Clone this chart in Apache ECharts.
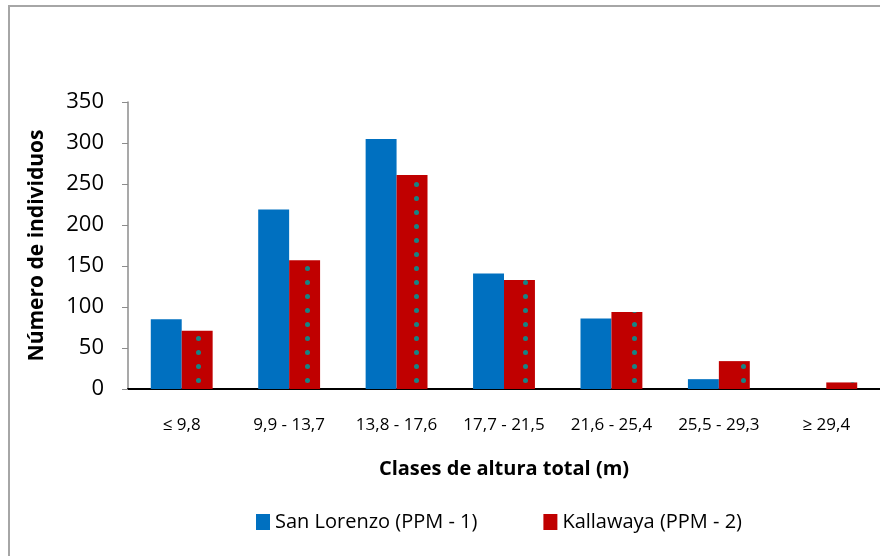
<!DOCTYPE html>
<html>
<head>
<meta charset="utf-8">
<script src="https://cdn.jsdelivr.net/npm/echarts@6/dist/echarts.min.js"></script>
<style>
html,body{margin:0;padding:0;background:#fff;}
#frame{position:absolute;left:8px;top:5px;width:880px;height:560px;border-left:2px solid #a6a6a6;border-top:2px solid #a6a6a6;box-sizing:border-box;}
#chart{position:absolute;left:0;top:0;width:880px;height:556px;}
</style>
</head>
<body>
<div id="frame"></div>
<div id="chart"></div>
<script>
const categories = ['≤ 9,8', '9,9 - 13,7', '13,8 - 17,6', '17,7 - 21,5', '21,6 - 25,4', '25,5 - 29,3', '≥ 29,4'];
const sanLorenzo = [85, 219, 305, 141, 86, 12, 0];
const kallawaya = [71, 157, 261, 133, 94, 34, 8];
const yTicks = [0, 50, 100, 150, 200, 250, 300, 350];
const seriesNames = ['San Lorenzo (PPM - 1)', 'Kallawaya (PPM - 2)'];

const FONT = 'Open Sans';
const chart = echarts.init(document.getElementById('chart'), null, {renderer: 'canvas'});
chart.setOption({
  animation: false,
  backgroundColor: 'transparent',
  grid: {left: 128, width: 758, top: 102, bottom: 167, containLabel: false},
  legend: {
    bottom: 19,
    left: 251,
    itemWidth: 14,
    itemHeight: 16,
    itemGap: 66,
    icon: 'rect',
    textStyle: {fontFamily: FONT, fontSize: 20, color: '#000'},
    data: seriesNames
  },
  xAxis: {
    type: 'category',
    data: categories,
    axisLine: {lineStyle: {color: '#000', width: 2}},
    axisTick: {show: false},
    axisLabel: {fontFamily: FONT, fontSize: 17, color: '#000', margin: 28, interval: 0},
    name: 'Clases de altura total (m)',
    nameLocation: 'middle',
    nameGap: 70,
    nameTextStyle: {fontFamily: FONT, fontSize: 20, fontWeight: 'bold', color: '#000'}
  },
  yAxis: {
    type: 'value',
    min: yTicks[0],
    max: yTicks[yTicks.length - 1],
    interval: 50,
    axisLine: {show: true, lineStyle: {color: '#8c8c8c', width: 1.5}},
    axisTick: {show: true, length: 6, lineStyle: {color: '#8c8c8c'}},
    splitLine: {show: false},
    axisLabel: {fontFamily: FONT, fontSize: 22, color: '#000', margin: 24},
    name: 'Número de individuos',
    nameLocation: 'middle',
    nameGap: 80,
    nameTextStyle: {fontFamily: FONT, fontSize: 21, fontWeight: 'bold', color: '#000'}
  },
  series: [
    {
      name: seriesNames[0],
      type: 'bar',
      data: sanLorenzo,
      barWidth: '28.8%',
      barGap: '0%',
      itemStyle: {color: '#0070C0'}
    },
    {
      name: seriesNames[1],
      type: 'bar',
      data: kallawaya,
      barWidth: '28.8%',
      itemStyle: {
        color: '#C00000',
        decal: {
          symbol: 'circle',
          symbolSize: 1,
          color: '#168484',
          dashArrayX: [0, 87, 5, 16.33],
          dashArrayY: [5, 9]
        }
      }
    }
  ]
});
</script>
</body>
</html>
